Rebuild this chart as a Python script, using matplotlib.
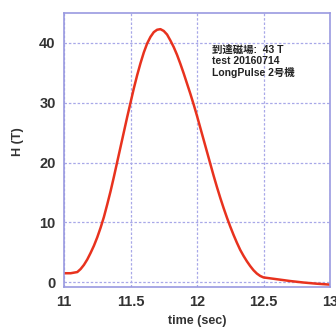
import numpy as np
import matplotlib.pyplot as plt

# data
time_sec = [11.0, 11.05, 11.1, 11.125, 11.15, 11.175, 11.2, 11.225, 11.25, 11.275,
            11.3, 11.325, 11.35, 11.375, 11.4, 11.425, 11.45, 11.475, 11.5, 11.525,
            11.55, 11.575, 11.6, 11.625, 11.65, 11.675, 11.7, 11.725, 11.75, 11.775,
            11.8, 11.825, 11.85, 11.875, 11.9, 11.925, 11.95, 11.975, 12.0, 12.025,
            12.05, 12.075, 12.1, 12.125, 12.15, 12.175, 12.2, 12.225, 12.25, 12.275,
            12.3, 12.325, 12.35, 12.375, 12.4, 12.425, 12.45, 12.475, 12.5, 12.55,
            12.6, 12.7, 12.8, 12.9, 13.0]
field_T = [1.5, 1.5, 1.7, 2.2, 2.9, 3.8, 4.9, 6.1, 7.5, 9.1,
           10.9, 13.0, 15.2, 17.6, 20.1, 22.6, 25.1, 27.6, 30.0, 32.4,
           34.6, 36.6, 38.4, 39.9, 41.0, 41.8, 42.2, 42.3, 42.0, 41.4,
           40.4, 39.3, 38.0, 36.5, 34.9, 33.2, 31.5, 29.7, 27.8, 25.8,
           23.8, 21.8, 19.8, 17.8, 15.9, 14.1, 12.4, 10.8, 9.3, 7.9,
           6.6, 5.4, 4.4, 3.5, 2.7, 2.0, 1.45, 1.05, 0.8, 0.65,
           0.5, 0.2, -0.05, -0.25, -0.4]

x_ticks = [11, 11.5, 12, 12.5, 13]
x_ticklabels = ['11', '11.5', '12', '12.5', '13']
y_ticks = [0, 10, 20, 30, 40]

note_lines = ['到達磁場:  43 T', 'test 20160714', 'LongPulse 2号機']

plt.rcParams['font.family'] = ['Liberation Sans', 'Noto Sans CJK JP', 'DejaVu Sans']

fig = plt.figure(figsize=(3.36, 3.29), dpi=100)
ax = fig.add_axes([64 / 336, 42 / 329, 266 / 336, 274 / 329])

ax.plot(time_sec, field_T, color='#e8321e', linewidth=1.8,
        solid_joinstyle='round')

ax.set_xlim(11, 13)
ax.set_ylim(-0.8, 45)
ax.set_xticks(x_ticks)
ax.set_xticklabels(x_ticklabels)
ax.set_yticks(y_ticks)

ax.grid(True, color='#a8a8e8', linestyle=(0, (2, 1.5)), linewidth=0.9)
for s in ax.spines.values():
    s.set_color('#9a9ae0')
    s.set_linewidth(1.2)

ax.tick_params(length=0, labelsize=10.5, colors='#333333', pad=6)
for lab in ax.get_xticklabels() + ax.get_yticklabels():
    lab.set_fontweight('bold')

ax.set_xlabel('time (sec)', fontsize=9, fontweight='bold', color='#333333', labelpad=4)
ax.set_ylabel('H (T)', fontsize=9, fontweight='bold', color='#333333')
ax.yaxis.set_label_coords(-0.15, 0.53)

ax.text(0.555, 0.885, '\n'.join(note_lines), transform=ax.transAxes,
        fontsize=7.5, fontweight='bold', color='#222222', va='top', ha='left',
        linespacing=1.15)

fig.savefig('out.png', dpi=100)
